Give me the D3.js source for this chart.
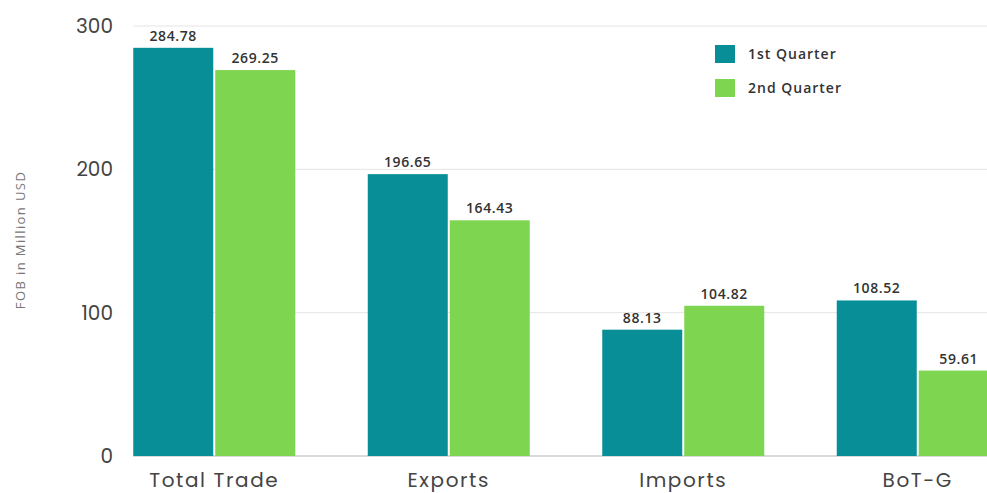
<!DOCTYPE html>
<html>
<head>
<meta charset="utf-8">
<script src="https://cdn.jsdelivr.net/npm/d3@7"></script>
<style>
  body { margin: 0; background: #fff; overflow: hidden; }
  svg { display: block; }
</style>
</head>
<body>
<script>
// data
const categories = ["Total Trade", "Exports", "Imports", "BoT-G"];
const seriesNames = ["1st Quarter", "2nd Quarter"];
const q1 = [284.78, 196.65, 88.13, 108.52];
const q2 = [269.25, 164.43, 104.82, 59.61];
const yTicks = [0, 100, 200, 300];
const colors = ["#078e96", "#7ed54f"];

let width = 987;
let height = 493;

let rows = categories.map((c, i) => ({ cat: c, values: [q1[i], q2[i]] }));

// x band reaches past the right edge like the original
let x = d3.scaleBand()
    .domain(categories)
    .range([97, 1035])
    .paddingInner(0.3)
    .paddingOuter(0.15);

let bw = 80;
let gap = 2;

let y = d3.scaleLinear()
    .domain([0, 300])
    .range([456, 26]);

let svg = d3.select("body").append("svg")
    .attr("width", width)
    .attr("height", height)
    .attr("viewBox", [0, 0, width, height]);

// gridlines
svg.append("g")
    .selectAll("line")
    .data(yTicks)
    .join("line")
    .attr("x1", 133)
    .attr("x2", width)
    .attr("y1", d => y(d))
    .attr("y2", d => y(d))
    .attr("stroke", d => d === 0 ? "#b5b5b5" : "#e4e4e4")
    .attr("stroke-width", 1);

// y tick labels
svg.append("g")
    .selectAll("text")
    .data(yTicks)
    .join("text")
    .attr("x", 113)
    .attr("y", d => y(d))
    .attr("dy", "0.35em")
    .attr("text-anchor", "end")
    .attr("fill", "#444")
    .style("font-family", "Poppins, 'Open Sans', sans-serif")
    .style("font-size", "20px")
    .text(d => d);

// y axis title
svg.append("text")
    .attr("transform", `translate(25,240) rotate(-90)`)
    .attr("text-anchor", "middle")
    .attr("fill", "#777")
    .style("font-family", "'Open Sans', sans-serif")
    .style("font-size", "13px")
    .style("letter-spacing", "1.4px")
    .text("FOB in Million USD");

// bars
let groups = svg.append("g")
    .selectAll("g")
    .data(rows)
    .join("g")
    .attr("transform", d => `translate(${x(d.cat) + x.bandwidth() / 2},0)`);

groups.selectAll("rect")
    .data(d => d.values)
    .join("rect")
    .attr("x", (d, i) => i === 0 ? -bw - gap / 2 : gap / 2)
    .attr("y", d => y(d))
    .attr("width", bw)
    .attr("height", d => y(0) - y(d))
    .attr("fill", (d, i) => colors[i]);

groups.selectAll("text.val")
    .data(d => d.values)
    .join("text")
    .attr("class", "val")
    .attr("x", (d, i) => i === 0 ? -bw / 2 - gap / 2 : bw / 2 + gap / 2)
    .attr("y", d => y(d) - 7)
    .attr("text-anchor", "middle")
    .attr("fill", "#333")
    .style("font-family", "'Open Sans', sans-serif")
    .style("font-weight", "600")
    .style("font-size", "14px")
    .style("letter-spacing", "0.6px")
    .text(d => d.toFixed(2));

// category labels
svg.append("g")
    .selectAll("text")
    .data(categories)
    .join("text")
    .attr("x", d => x(d) + x.bandwidth() / 2)
    .attr("y", 487)
    .attr("text-anchor", "middle")
    .attr("fill", "#444")
    .style("font-family", "Poppins, 'Open Sans', sans-serif")
    .style("font-size", "20px")
    .style("letter-spacing", "1.6px")
    .text(d => d);

// legend
let legend = svg.append("g")
    .selectAll("g")
    .data(seriesNames)
    .join("g")
    .attr("transform", (d, i) => `translate(715,${45 + i * 34})`);

legend.append("rect")
    .attr("width", 20)
    .attr("height", 18)
    .attr("fill", (d, i) => colors[i]);

legend.append("text")
    .attr("x", 33)
    .attr("y", 9)
    .attr("dy", "0.35em")
    .attr("fill", "#333")
    .style("font-family", "'Open Sans', sans-serif")
    .style("font-weight", "600")
    .style("font-size", "14px")
    .style("letter-spacing", "1px")
    .text(d => d);
</script>
</body>
</html>
